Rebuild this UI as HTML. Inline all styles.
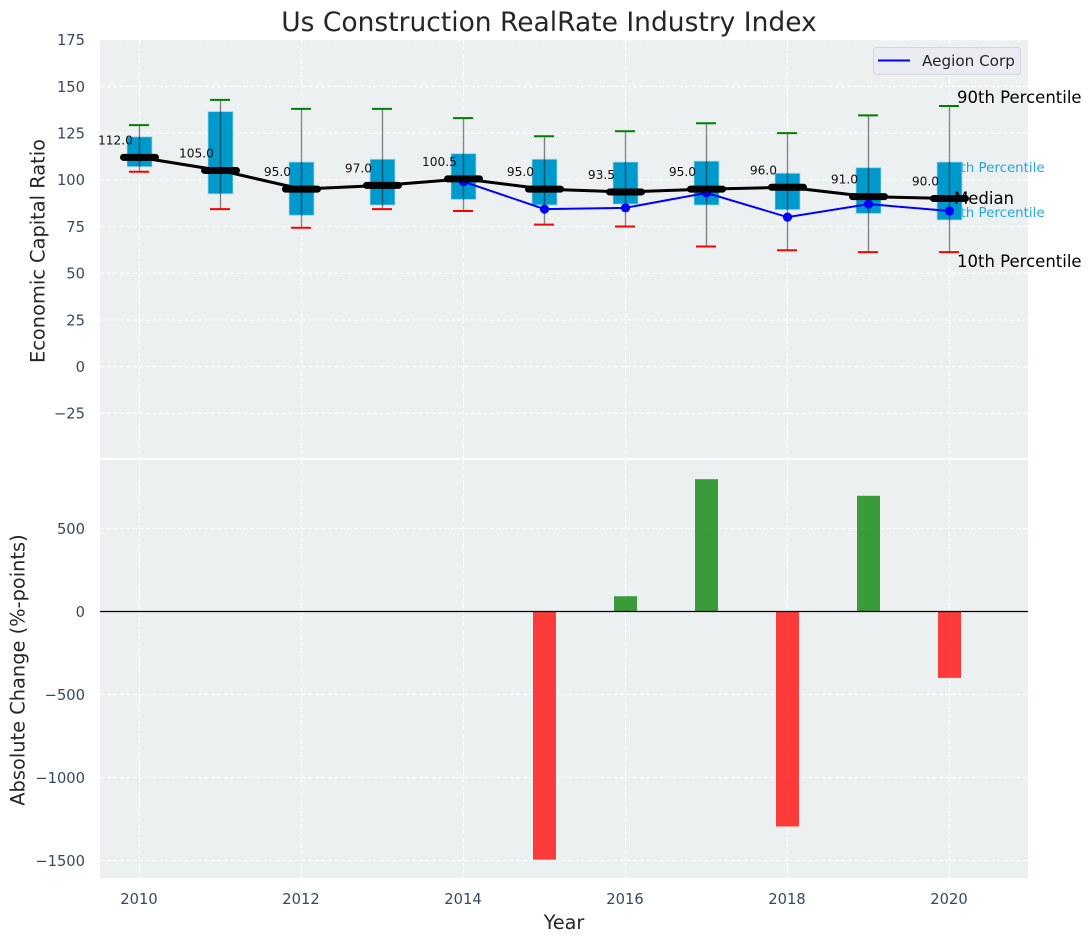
<!DOCTYPE html>
<html>
<head>
<meta charset="utf-8">
<title>Us Construction RealRate Industry Index</title>
<style>
html,body{margin:0;padding:0;background:#fff;width:1092px;height:942px;overflow:hidden}
svg{display:block;font-family:"DejaVu Sans","Liberation Sans",sans-serif}
</style>
</head>
<body>
<svg id="chart" width="1092" height="942" viewBox="0 0 1092 942" xmlns="http://www.w3.org/2000/svg"></svg>
<script>
const years = [2010,2011,2012,2013,2014,2015,2016,2017,2018,2019,2020];
const p90 = [129.3,142.8,138,138,133,123.3,126,130.3,125,134.5,139.5];
const p75 = [123,136.5,109.5,111,114,111,109.5,110,103.5,106.5,109.5];
const medians = [112,105,95,97,100.5,95,93.5,95,96,91,90];
const p25 = [107,92.5,81,86.5,89.5,86.5,87,86.5,84,82,78.5];
const p10 = [104.3,84.3,74.3,84.3,83.3,76,75,64.3,62.3,61.3,61.3];
const companyYears = [2014,2015,2016,2017,2018,2019,2020];
const companyValues = [99,84.3,85,93,80,87,83.3];
const changeYears = [2015,2016,2017,2018,2019,2020];
const changeValues = [-1495,92,797,-1295,697,-400];
const xTicks = [2010,2012,2014,2016,2018,2020];
const topTicks = [175,150,125,100,75,50,25,0,-25];
const bottomTicks = [500,0,-500,-1000,-1500];

const NS = 'http://www.w3.org/2000/svg';
const svg = document.getElementById('chart');
const TOP = {l:100,r:1028,t:40,b:458};
const BOT = {l:100,r:1028,t:460,b:878};
const x = v => 139.5 + (v - 2010) * 81;
const yTop = v => 366.6 - v * 1.868;
const yBot = v => 611.5 - v * 0.166;

function el(tag, attrs, parent, text){
  const e = document.createElementNS(NS, tag);
  for (const k in attrs) e.setAttribute(k, attrs[k]);
  if (text !== undefined) e.textContent = text;
  (parent || svg).appendChild(e);
  return e;
}
function group(name){
  const g = el('g', {});
  
  
  return g;
}
function tag(e, name){
  
  
  return e;
}

/* panels */
tag(el('rect',{x:TOP.l,y:TOP.t,width:TOP.r-TOP.l,height:TOP.b-TOP.t,fill:'#ecf0f1'}),'top-plot-area');
tag(el('rect',{x:BOT.l,y:BOT.t,width:BOT.r-BOT.l,height:BOT.b-BOT.t,fill:'#ecf0f1'}),'bottom-plot-area');

/* grid */
const grid = group('grid-lines');
const dash = {stroke:'#fff','stroke-width':1.1,'stroke-dasharray':'4.5 2','stroke-opacity':0.9};
xTicks.forEach(t=>{
  tag(el('line',Object.assign({x1:x(t),x2:x(t),y1:TOP.t,y2:TOP.b},dash),grid),'top-x-grid-line');
  tag(el('line',Object.assign({x1:x(t),x2:x(t),y1:BOT.t,y2:BOT.b},dash),grid),'bottom-x-grid-line');
});
topTicks.forEach(t=>{
  tag(el('line',Object.assign({x1:TOP.l,x2:TOP.r,y1:yTop(t),y2:yTop(t)},dash),grid),'top-y-grid-line');
});
bottomTicks.forEach(t=>{
  tag(el('line',Object.assign({x1:BOT.l,x2:BOT.r,y1:yBot(t),y2:yBot(t)},dash),grid),'bottom-y-grid-line');
});

/* tick labels */
const ticks = group('tick-labels');
const tickColor = '#34495e';
topTicks.forEach(t=>{
  tag(el('text',{x:85,y:yTop(t)+5.4,'text-anchor':'end','font-size':14.7,fill:tickColor},ticks,String(t).replace('-','\u2212')),'top-y-tick-label');
});
bottomTicks.forEach(t=>{
  tag(el('text',{x:85,y:yBot(t)+5.5,'text-anchor':'end','font-size':14.7,fill:tickColor},ticks,String(t).replace('-','\u2212')),'bottom-y-tick-label');
});
xTicks.forEach(t=>{
  tag(el('text',{x:x(t)-0.5,y:904,'text-anchor':'middle','font-size':14.7,fill:tickColor},ticks,String(t)),'x-tick-label');
});

/* percentile annotations behind boxes */
const notes = group('percentile-annotations');
const last = x(2020);
tag(el('text',{x:last+7.5,y:103,'font-size':16.5,fill:'#000'},notes,'90th Percentile'),'annotation-90th');
tag(el('text',{x:last+7.5,y:267,'font-size':16.5,fill:'#000'},notes,'10th Percentile'),'annotation-10th');
tag(el('text',{x:last-6,y:172,'font-size':13.4,fill:'#0099cc','fill-opacity':0.85},notes,'75th Percentile'),'annotation-75th');
tag(el('text',{x:last-6,y:217,'font-size':13.4,fill:'#0099cc','fill-opacity':0.85},notes,'25th Percentile'),'annotation-25th');

/* boxes */
const boxes = group('percentile-boxes');
years.forEach((yr,i)=>{
  tag(el('rect',{x:x(yr)-12.5,y:yTop(p75[i]),width:25,height:yTop(p25[i])-yTop(p75[i]),fill:'#0099cc',stroke:'#add8e6','stroke-width':1,'stroke-opacity':0.7},boxes),'iqr-box-'+yr);
});

/* whiskers */
const whiskers = group('whiskers');
years.forEach((yr,i)=>{
  tag(el('line',{x1:x(yr),x2:x(yr),y1:yTop(p90[i]),y2:yTop(p10[i]),stroke:'#000','stroke-opacity':0.45,'stroke-width':1.4},whiskers),'whisker-'+yr);
  tag(el('line',{x1:x(yr)-10.5,x2:x(yr)+9.5,y1:yTop(p90[i]),y2:yTop(p90[i]),stroke:'#008000','stroke-width':2},whiskers),'cap-90th-'+yr);
  tag(el('line',{x1:x(yr)-10.5,x2:x(yr)+9.5,y1:yTop(p10[i]),y2:yTop(p10[i]),stroke:'#ff0000','stroke-width':2},whiskers),'cap-10th-'+yr);
});

/* company line */
const company = group('aegion-corp-series');
tag(el('polyline',{points:companyYears.map((yr,i)=>x(yr)+','+yTop(companyValues[i])).join(' '),fill:'none',stroke:'#0000ff','stroke-width':2},company),'aegion-corp-line');
companyYears.forEach((yr,i)=>{
  tag(el('circle',{cx:x(yr),cy:yTop(companyValues[i]),r:4.6,fill:'#0000ff'},company),'aegion-corp-point-'+yr);
});

/* median line + markers */
const med = group('median-series');
tag(el('polyline',{points:years.map((yr,i)=>x(yr)+','+yTop(medians[i])).join(' '),fill:'none',stroke:'#000','stroke-width':3},med),'median-line');
years.forEach((yr,i)=>{
  tag(el('line',{x1:x(yr)-16,x2:x(yr)+16,y1:yTop(medians[i]),y2:yTop(medians[i]),stroke:'#000','stroke-width':7,'stroke-linecap':'round'},med),'median-marker-'+yr);
  tag(el('text',{x:x(yr)-24,y:yTop(medians[i])-13,'text-anchor':'middle','font-size':12.2,fill:'#111'},med,medians[i].toFixed(1)),'median-value-'+yr);
});
tag(el('text',{x:last+4.5,y:204,'font-size':16.5,fill:'#000'},notes,'Median'),'annotation-median');
svg.appendChild(notes.lastChild);

/* change bars */
const bars = group('absolute-change-bars');
changeYears.forEach((yr,i)=>{
  const v = changeValues[i];
  const y0 = Math.min(yBot(0),yBot(v));
  tag(el('rect',{x:x(yr)-11.5,y:y0,width:23,height:Math.abs(yBot(v)-yBot(0)),fill:v>=0?'#008000':'#ff0000','fill-opacity':0.76},bars),'change-bar-'+yr);
});
tag(el('line',{x1:BOT.l,x2:BOT.r,y1:yBot(0),y2:yBot(0),stroke:'#000','stroke-width':1.3}),'zero-line');

/* legend */
const legend = group('legend');
tag(el('rect',{x:873.5,y:47.5,width:147,height:27,rx:3,fill:'#eaeaf2',stroke:'#d6d6d6','stroke-width':1},legend),'legend-box');
tag(el('line',{x1:878,x2:910,y1:60.5,y2:60.5,stroke:'#0000ff','stroke-width':2},legend),'legend-line-aegion-corp');
tag(el('text',{x:922,y:66,'font-size':15.2,fill:'#262626'},legend,'Aegion Corp'),'legend-label-aegion-corp');

/* titles */
tag(el('text',{x:549,y:31,'text-anchor':'middle','font-size':26.5,fill:'#262626'}, null,'Us Construction RealRate Industry Index'),'chart-title');
tag(el('text',{x:564,y:929,'text-anchor':'middle','font-size':19.2,fill:'#262626'}, null,'Year'),'x-axis-title');
tag(el('text',{transform:'translate(44.5,251) rotate(-90)','text-anchor':'middle','font-size':19.4,fill:'#262626'}, null,'Economic Capital Ratio'),'top-y-axis-title');
tag(el('text',{transform:'translate(24.5,670) rotate(-90)','text-anchor':'middle','font-size':19.4,fill:'#262626'}, null,'Absolute Change (%-points)'),'bottom-y-axis-title');
</script>
</body>
</html>
